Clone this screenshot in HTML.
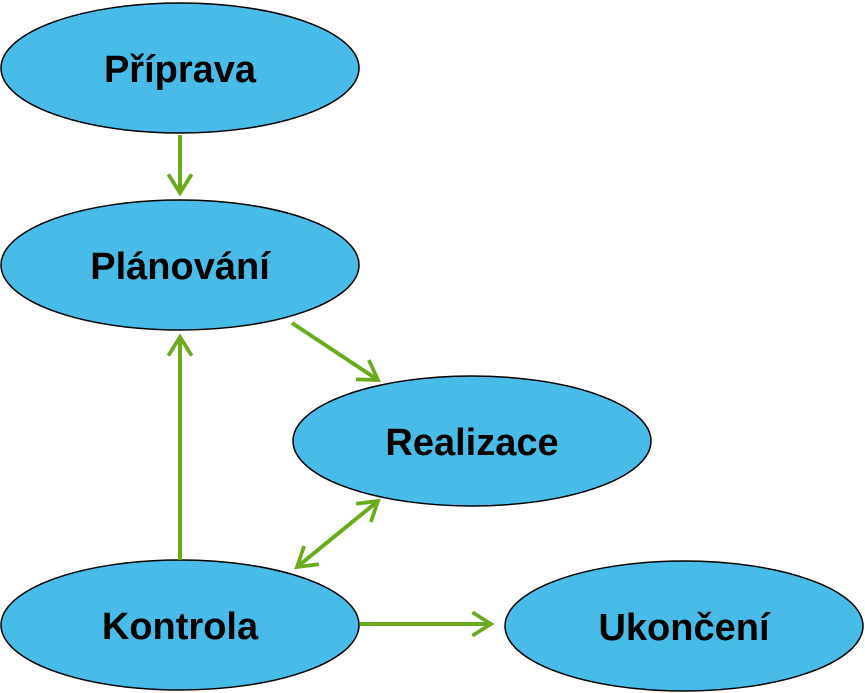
<!DOCTYPE html>
<html><head><meta charset="utf-8"><style>
html,body{margin:0;padding:0;background:#fff;}
svg{display:block;}
text{font-family:"Liberation Sans",Arial,sans-serif;font-weight:bold;font-size:38px;fill:#000;}
</style></head><body>
<svg width="865" height="693" viewBox="0 0 865 693" xmlns="http://www.w3.org/2000/svg">
<defs>
<marker id="a" viewBox="0 0 12 12" refX="10" refY="6" markerWidth="7" markerHeight="7" orient="auto-start-reverse" markerUnits="strokeWidth">
<path d="M2,1 L10,6 L2,11" fill="none" stroke="#6aab1e" stroke-width="1.6"/>
</marker>
</defs>
<g fill="#48bbe8" stroke="#000" stroke-width="1.5">
<ellipse cx="180" cy="68" rx="179" ry="65"/>
<ellipse cx="180" cy="265" rx="179" ry="65"/>
<ellipse cx="472" cy="441" rx="179" ry="65"/>
<ellipse cx="180" cy="625" rx="179" ry="65"/>
<ellipse cx="684" cy="626" rx="179" ry="65"/>
</g>
<g stroke="#6aab1e" stroke-width="4" fill="none">
<line x1="180" y1="135" x2="180" y2="193" marker-end="url(#a)"/>
<line x1="292" y1="323" x2="378" y2="380" marker-end="url(#a)"/>
<line x1="180" y1="560" x2="180" y2="337" marker-end="url(#a)"/>
<line x1="297" y1="567" x2="378" y2="501" marker-start="url(#a)" marker-end="url(#a)"/>
<line x1="360" y1="624" x2="491" y2="624" marker-end="url(#a)"/>
</g>
<g text-anchor="middle">
<text x="180" y="82">Příprava</text>
<text x="180" y="279">Plánování</text>
<text x="472" y="455">Realizace</text>
<text x="180" y="639">Kontrola</text>
<text x="684" y="640">Ukončení</text>
</g>
</svg>
</body></html>
